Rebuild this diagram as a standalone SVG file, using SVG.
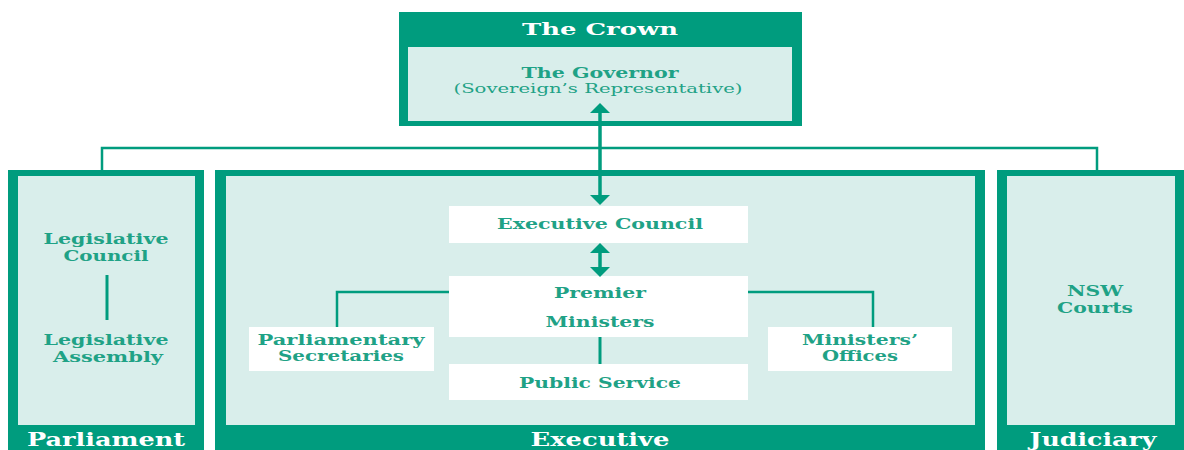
<svg xmlns="http://www.w3.org/2000/svg" width="1184" height="450" viewBox="0 0 1184 450">
<style>
.dark{fill:#009c7e}
.light{fill:#d9eeeb}
.white{fill:#ffffff}
.ln{stroke:#009c7e;fill:none}
text{font-family:"DejaVu Serif","Liberation Serif",serif;font-weight:bold;text-anchor:middle}
.hd{fill:#ffffff;font-size:17px}
.ft{fill:#ffffff;font-size:18px}
.lb{fill:#1fa286;font-size:14px}
.sub{fill:#1fa286;font-size:13px;font-weight:normal}
</style>
<rect width="1184" height="450" fill="#ffffff"/>
<g id="crown">
<rect class="dark" x="399" y="12" width="403" height="114"/>
<rect class="light" x="408" y="47" width="384" height="74"/>
<text class="hd" x="600" y="35" textLength="156" lengthAdjust="spacingAndGlyphs">The Crown</text>
<text class="lb" x="600" y="78" textLength="157" lengthAdjust="spacingAndGlyphs">The Governor</text>
<text class="sub" x="598" y="93" textLength="289" lengthAdjust="spacingAndGlyphs">(Sovereign’s Representative)</text>
</g>
<g id="parliament">
<rect class="dark" x="8" y="170" width="196" height="280"/>
<rect class="light" x="18" y="176" width="177" height="249"/>
<text class="ft" x="106" y="446" textLength="158" lengthAdjust="spacingAndGlyphs">Parliament</text>
</g>
<g id="legislative-council">
<text class="lb" x="106" y="244" textLength="125" lengthAdjust="spacingAndGlyphs">Legislative</text>
<text class="lb" x="106" y="261" textLength="85" lengthAdjust="spacingAndGlyphs">Council</text>
</g>
<g id="legislative-assembly">
<text class="lb" x="106" y="345" textLength="125" lengthAdjust="spacingAndGlyphs">Legislative</text>
<text class="lb" x="108" y="362" textLength="110" lengthAdjust="spacingAndGlyphs">Assembly</text>
</g>
<g id="executive">
<rect class="dark" x="215" y="170" width="770" height="280"/>
<rect class="light" x="226" y="176" width="749" height="249"/>
<text class="ft" x="600" y="446" textLength="139" lengthAdjust="spacingAndGlyphs">Executive</text>
</g>
<g id="executive-council">
<rect class="white" x="449" y="206" width="299" height="37"/>
<text class="lb" x="600" y="229" textLength="206" lengthAdjust="spacingAndGlyphs">Executive Council</text>
</g>
<g id="premier-ministers">
<rect class="white" x="449" y="276" width="299" height="61"/>
<text class="lb" x="600" y="298" textLength="92" lengthAdjust="spacingAndGlyphs">Premier</text>
<text class="lb" x="600" y="327" textLength="109" lengthAdjust="spacingAndGlyphs">Ministers</text>
</g>
<g id="public-service">
<rect class="white" x="449" y="364" width="299" height="36"/>
<text class="lb" x="600" y="388" textLength="162" lengthAdjust="spacingAndGlyphs">Public Service</text>
</g>
<g id="parliamentary-secretaries">
<rect class="white" x="249" y="327" width="185" height="44"/>
<text class="lb" x="341" y="345" textLength="167" lengthAdjust="spacingAndGlyphs">Parliamentary</text>
<text class="lb" x="341" y="361" textLength="126" lengthAdjust="spacingAndGlyphs">Secretaries</text>
</g>
<g id="ministers-offices">
<rect class="white" x="768" y="327" width="184" height="44"/>
<text class="lb" x="860" y="345" textLength="116" lengthAdjust="spacingAndGlyphs">Ministers’</text>
<text class="lb" x="860" y="361" textLength="76" lengthAdjust="spacingAndGlyphs">Offices</text>
</g>
<g id="judiciary">
<rect class="dark" x="997" y="170" width="187" height="280"/>
<rect class="light" x="1007" y="176" width="168" height="249"/>
<text class="ft" x="1093" y="446" textLength="127" lengthAdjust="spacingAndGlyphs">Judiciary</text>
</g>
<g id="nsw-courts">
<text class="lb" x="1095" y="296" textLength="56" lengthAdjust="spacingAndGlyphs">NSW</text>
<text class="lb" x="1095" y="313" textLength="76" lengthAdjust="spacingAndGlyphs">Courts</text>
</g>
<g id="connectors">
<path class="ln" stroke-width="2.5" d="M102 170 V148 H1097 V170"/>
<line class="ln" stroke-width="3.5" x1="600" y1="112" x2="600" y2="196"/>
<polygon class="dark" points="600,103 610,113 590,113"/>
<polygon class="dark" points="600,205 610,195 590,195"/>
<line class="ln" stroke-width="3.5" x1="600" y1="252" x2="600" y2="268"/>
<polygon class="dark" points="600,243 610,253 590,253"/>
<polygon class="dark" points="600,277 610,267 590,267"/>
<line class="ln" stroke-width="3" x1="600" y1="337" x2="600" y2="364"/>
<path class="ln" stroke-width="2.5" d="M449 292 H337 V327"/>
<path class="ln" stroke-width="2.5" d="M748 292 H873 V327"/>
<line class="ln" stroke-width="3" x1="107" y1="275" x2="107" y2="320"/>
</g>
</svg>
